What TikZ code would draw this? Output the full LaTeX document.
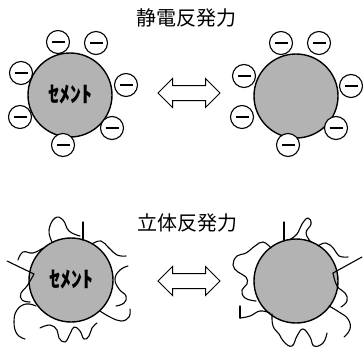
\documentclass[tikz,border=0pt]{standalone}
\usepackage{fontspec}
\setmainfont{Noto Sans CJK JP}
\usetikzlibrary{shapes.arrows}
\usetikzlibrary{positioning}
\definecolor{cemgray}{RGB}{179,179,179}
\tikzset{
  particle/.style={circle, draw, line width=1.4pt, fill=cemgray, minimum size=84pt, inner sep=0pt,
    font={\bfseries\fontsize{22}{22}\selectfont}},
  ion/.style={circle, draw, line width=1.1pt, fill=white, minimum size=23pt, inner sep=0pt,
    path picture={\draw[line width=2.2pt] ([xshift=-6.5pt]path picture bounding box.center)
      -- ([xshift=6.5pt]path picture bounding box.center);}},
  chain/.style={line width=1.1pt, line cap=round, line join=round},
  swap arrow/.style={double arrow, draw, line width=1pt, fill=white, inner sep=0pt,
    text height=7pt, text depth=7pt, double arrow head extend=7pt, minimum height=62pt},
  heading/.style={font={\fontsize{20}{20}\selectfont}}
}
% ring of minus charges around a particle
\newcommand{\ionring}[2]{
    \foreach \dx/\dy [count=\k] in {#2}
        \node[ion] (#1-ion\k) at ([shift={(\dx,\dy)}]#1.center) {};
}
\newcommand{\polymer}[1]{\draw[chain] plot[smooth, tension=0.75] coordinates {#1};}

\begin{document}
\begin{tikzpicture}[x=1pt, y=-1pt]
    \useasboundingbox (0,0) rectangle (363,353);

    % electrostatic repulsion
    \node[heading] (titleA) at (186,18) {静電反発力};
    \node[particle] (cemA) at (70,95) {ｾﾒﾝﾄ};
    \node[particle] (cemB) at (296,96) {};
    \ionring{cemA}{-12/-53, 26/-52, -49/-22, 56/-10, -50/22, 42/33, -7/50}
    \ionring{cemB}{-15/-53, 23/-53, -52/-20, 55/-10, -54/21, 40/32, -8/49}
    \node[swap arrow] (swapA) at (189,93) {};

    % steric repulsion
    \node[heading] (titleB) at (187,223) {立体反発力};
    \node[particle] (cemC) at (71,280) {ｾﾒﾝﾄ};
    \node[particle] (cemD) at (296,281) {};
    \node[swap arrow] (swapB) at (189,281) {};

    % adsorbed chains, left particle
    \polymer{(52,242) (49,230) (55,218) (63,220) (69,231) (80,236)}
    \draw[chain] (83,222) -- (83,240);
    \polymer{(92,244) (101,241) (109,248) (117,255) (126,256)}
    \polymer{(128,266) (120,270) (115,279) (119,289) (126,296) (124,303) (116,306)}
    \polymer{(100,311) (110,317) (121,321) (129,317) (130,309)}
    \polymer{(40,328) (50,325) (57,330) (59,338) (65,342) (70,334) (74,327) (80,331) (84,339) (89,336) (92,328) (97,323)}
    \polymer{(36,306) (26,304) (17,310) (14,322) (17,334) (25,339)}
    \draw[chain] (7,261) -- (34,274);
    \polymer{(34,274) (27,286) (21,293) (22,300) (30,302)}
    \polymer{(43,248) (33,253) (23,252) (18,260)}

    % adsorbed chains, right particle
    \draw[chain] (284,222) -- (284,241);
    \polymer{(289,240) (297,234) (302,224) (308,218) (311,224) (306,233) (311,242)}
    \polymer{(318,246) (326,243) (334,249) (339,256) (348,257)}
    \draw[chain] (362,257) -- (333,273);
    \polymer{(333,273) (337,286) (345,293) (347,301) (341,307)}
    \polymer{(329,306) (339,312) (348,319) (350,329) (344,337)}
    \polymer{(272,314) (273,326) (279,334) (284,342) (292,346) (297,336) (303,329) (310,337) (314,346) (323,343) (327,333)}
    \draw[chain] (240,306) -- (240,318);
    \polymer{(240,318) (250,316) (260,311) (270,313)}
    \polymer{(271,248) (263,242) (255,246) (246,253) (237,256) (233,265) (238,272) (246,277) (247,284) (242,290) (245,298) (256,301)}
\end{tikzpicture}
\end{document}
